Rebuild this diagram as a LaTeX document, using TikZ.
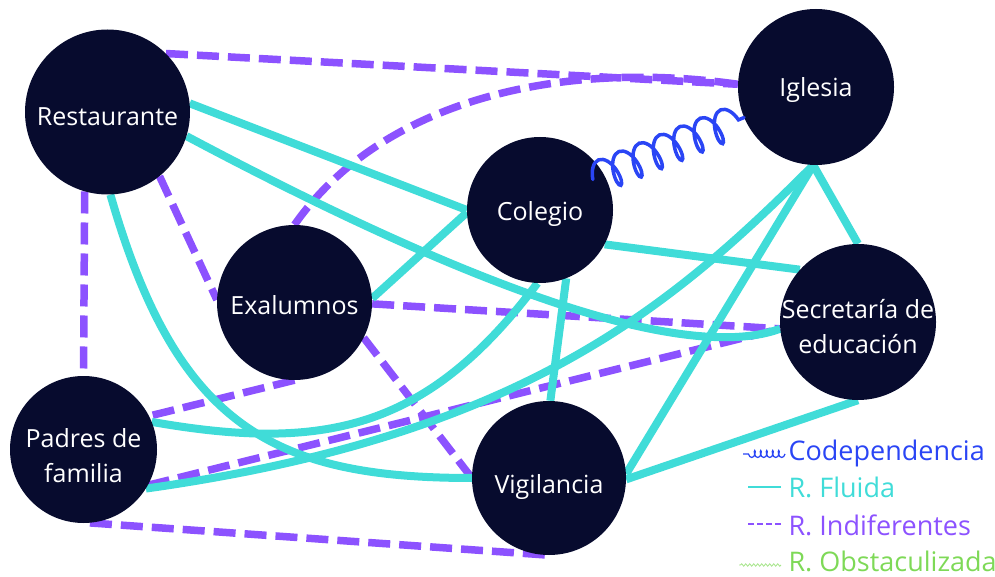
\documentclass[tikz,border=0pt]{standalone}
\usepackage{fontspec}
\newfontfamily\opensans{Open Sans}
\usepackage{tikz}
\usetikzlibrary{decorations.pathmorphing,backgrounds}

\definecolor{navy}{HTML}{070B2E}
\definecolor{fluidc}{HTML}{40DCD8}
\definecolor{indiffc}{HTML}{8C52FF}
\definecolor{codepc}{HTML}{2A45F5}
\definecolor{obstc}{HTML}{7ED957}

\begin{document}
\begin{tikzpicture}[
            x=1pt, y=1pt,
            font=\opensans,
            actor/.style={circle, fill=navy, inner sep=0pt, minimum size=#1},
            actorlbl/.style={text=white, align=center,
            font=\opensans\fontsize{25}{35}\selectfont},
            fluid/.style={line width=8pt, fluidc},
            indiff/.style={line width=7.5pt, indiffc, dash pattern=on 22pt off 9pt},
            codep/.style={line width=3.5pt, codepc, line cap=round, decorate,
            decoration={coil, amplitude=16pt, segment length=22pt, aspect=0.45}},
            legtext/.style={anchor=base west, font=\opensans\fontsize{27}{30}\selectfont}
        ]
\useasboundingbox (0,0) rectangle (995,576);

% --- actors ---
            \node[actor=165] (rest) at (107.5,464) {};
            \node[actor=156] (igl)  at (816,489)   {};
            \node[actor=146] (col)  at (540,366)   {};
            \node[actor=155] (exa)  at (294.5,273.5) {};
            \node[actor=156] (sec)  at (858,254)   {};
            \node[actor=147] (pad)  at (83.5,126.5) {};
            \node[actor=154] (vig)  at (549,98)    {};

            \node[actorlbl] (restlbl) at ([yshift=-5pt]rest.center) {Restaurante};
            \node[actorlbl] (igllbl)  at ([yshift=-3pt]igl.center)  {Iglesia};
            \node[actorlbl] (collbl)  at ([yshift=-4pt]col.center)  {Colegio};
            \node[actorlbl] (exalbl)  at ([yshift=-3pt]exa.center)  {Exalumnos};
            \node[actorlbl] (seclbl)  at ([yshift=-5pt]sec.center)  {Secretaría de\\educación};
            \node[actorlbl] (padlbl)  at ([yshift=-6pt]pad.center)  {Padres de\\familia};
            \node[actorlbl] (viglbl)  at ([yshift=-9pt]vig.center)  {Vigilancia};

\begin{scope}[on background layer]
% indifferent relations
            \draw[indiff] (rest.45)  -- (igl.178);
            \draw[indiff] (exa.90) .. controls +(55:152) and +(172:180) .. (igl.178);
            \draw[indiff] (rest.-51) -- (exa.178);
            \draw[indiff] (rest.-106) -- (pad.90);
            \draw[indiff] (exa.-1)   -- (sec.185);
            \draw[indiff] (exa.-27)  -- (vig.180);
            \draw[indiff] (exa.-90)  -- (pad.27);
            \draw[indiff] (pad.-29)  -- (sec.185);
            \draw[indiff] (pad.-85)  -- (vig.-90);

% fluid relations
            \draw[fluid] (rest.6)   -- (col.180);
            \draw[fluid] (rest.-17) .. controls +(-28:250) and +(200:120) .. (sec.185);
            \draw[fluid] (rest.-88) .. controls +(-74:240) and +(180:200) .. (vig.180);
            \draw[fluid] (pad.22)   .. controls +(-10:180) and +(233:180) .. (col.-92);
            \draw[fluid] (pad.-32)  .. controls +(8:380) and +(225:200) .. (igl.-92);
            \draw[fluid] (exa.3)    -- (col.182);
            \draw[fluid] (col.-28)  -- (sec.138);
            \draw[fluid] (col.-69)  -- (vig.89);
            \draw[fluid] (igl.-92)  -- (sec.90);
            \draw[fluid] (igl.-92)  -- (vig.3);
            \draw[fluid] (vig.-1)   -- (sec.-90);
\end{scope}

% codependency, drawn over Colegio
            \path (col.center) ++(30:61) coordinate (colcoil);
            \draw[codep] (colcoil) -- (igl.203);

% --- legend ---
            \node[legtext, text=codepc]  (lgcod) at (785,116) {Codependencia};
            \node[legtext, text=fluidc]  (lgflu) at (785,79)  {R. Fluida};
            \node[legtext, text=indiffc] (lgind) at (785,41)  {R. Indiferentes};
            \node[legtext, text=obstc]   (lgobs) at (785,5)   {R. Obstaculizada};

            \draw[codepc, line width=1.2pt, decorate,
            decoration={coil, amplitude=3.5pt, segment length=6pt}]
            ([xshift=0pt, yshift=6pt]lgcod.base west) -- ++(-42,0);
            \draw[fluidc, line width=2pt] ([xshift=-4pt, yshift=10pt]lgflu.base west) -- ++(-33,0);
            \draw[indiffc, line width=2pt, dash pattern=on 6pt off 3pt]
            ([xshift=-4pt, yshift=11pt]lgind.base west) -- ++(-33,0);
            \draw[obstc!70, line width=0.8pt, decorate,
            decoration={snake, amplitude=1.2pt, segment length=4pt}]
            ([xshift=-4pt, yshift=6pt]lgobs.base west) -- ++(-42,0);
        \end{tikzpicture}
\end{document}
